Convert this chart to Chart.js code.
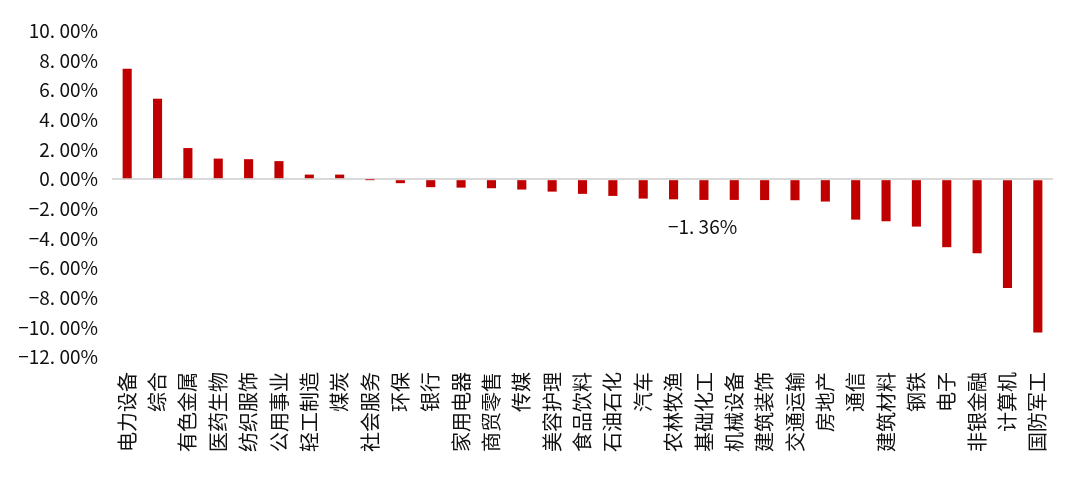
<!DOCTYPE html>
<html>
<head>
<meta charset="utf-8">
<script src="https://cdn.jsdelivr.net/npm/chart.js@4"></script>
<style>
  html, body { margin: 0; padding: 0; background: #fff; }
  #wrap { width: 1080px; height: 492px; }
</style>
</head>
<body>
<div id="wrap"><canvas id="chart_hangye"></canvas></div>
<script>
const hangye = ['电力设备', '综合', '有色金属', '医药生物', '纺织服饰', '公用事业', '轻工制造', '煤炭', '社会服务', '环保',
    '银行', '家用电器', '商贸零售', '传媒', '美容护理', '食品饮料', '石油石化', '汽车', '农林牧渔', '基础化工',
    '机械设备', '建筑装饰', '交通运输', '房地产', '通信', '建筑材料', '钢铁', '电子', '非银金融', '计算机', '国防军工'];
const zhangdiefu = [7.45, 5.43, 2.10, 1.39, 1.35, 1.22, 0.31, 0.31, -0.01, -0.27,
    -0.54, -0.57, -0.61, -0.70, -0.84, -0.99, -1.13, -1.31, -1.36, -1.40,
    -1.40, -1.41, -1.42, -1.51, -2.73, -2.84, -3.20, -4.59, -5.00, -7.34, -10.34];
const yTicks = [-12, -10, -8, -6, -4, -2, 0, 2, 4, 6, 8, 10];
const labelIndex = 18; // 农林牧渔

const fmtPersen = (v) => v.toFixed(2).replace('-', '−').replace('.', '. ') + '%';

// label khusus di bawah batang 农林牧渔
const labelPlugin = {
    id: 'labelNongLin',
    afterDatasetsDraw(chart) {
        const bar = chart.getDatasetMeta(0).data[labelIndex];
        const y = chart.scales.y.getPixelForValue(zhangdiefu[labelIndex]);
        const ctx = chart.ctx;
        ctx.save();
        ctx.font = '19px "Noto Sans CJK SC"';
        ctx.fillStyle = '#111';
        ctx.textAlign = 'center';
        ctx.textBaseline = 'middle';
        ctx.fillText(fmtPersen(zhangdiefu[labelIndex]), bar.x + 29, y + 27);
        ctx.restore();
    }
};

const ctxHangye = document.getElementById('chart_hangye');
const chartHangye = new Chart(ctxHangye, {
    type: 'bar',
    data: {
        labels: hangye,
        datasets: [{
            label: '涨跌幅',
            data: zhangdiefu,
            backgroundColor: '#c00000',
            barPercentage: 0.3,
            categoryPercentage: 1.0,
        }]
    },
    options: {
        responsive: true,
        maintainAspectRatio: false,
        animation: false,
        plugins: {
            legend: { display: false },
            tooltip: { enabled: false }
        },
        layout: {
            padding: { left: 0, right: 27, top: 31, bottom: 0 }
        },
        scales: {
            x: {
                grid: { display: false, drawTicks: false },
                border: { display: false },
                afterFit(scale) { scale.height = 135; },
                ticks: {
                    autoSkip: false,
                    minRotation: 90,
                    maxRotation: 90,
                    padding: 15,
                    color: '#111',
                    font: { family: '"Noto Sans CJK SC"', size: 20 }
                }
            },
            y: {
                min: -12,
                max: 10,
                afterFit(scale) { scale.width = 112; },
                afterBuildTicks(scale) { scale.ticks = yTicks.map(v => ({ value: v })); },
                border: { display: false },
                grid: {
                    drawTicks: false,
                    color: (c) => c.tick && c.tick.value === 0 ? '#d9d9d9' : 'rgba(0,0,0,0)',
                    lineWidth: 2
                },
                ticks: {
                    padding: 14,
                    color: '#111',
                    font: { family: '"Noto Sans CJK SC"', size: 19 },
                    callback: (v) => fmtPersen(v)
                }
            }
        }
    },
    plugins: [labelPlugin]
});
</script>
</body>
</html>
